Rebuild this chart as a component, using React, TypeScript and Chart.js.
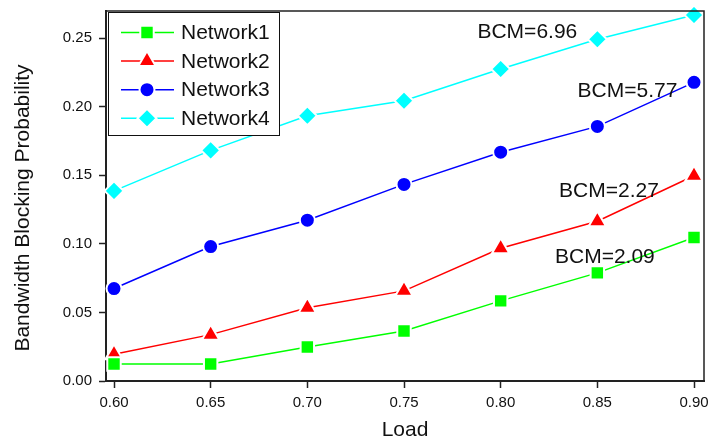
import React, { useEffect, useRef } from "react";
import { Chart, registerables } from "chart.js";
import { drawPoint } from "chart.js/helpers";

Chart.register(...registerables);

const loads = [0.6, 0.65, 0.7, 0.75, 0.8, 0.85, 0.9];
const network1 = [0.0124, 0.0124, 0.0248, 0.0365, 0.0584, 0.0788, 0.1046];
const network2 = [0.0195, 0.0338, 0.0534, 0.0657, 0.0968, 0.1165, 0.1496];
const network3 = [0.0674, 0.098, 0.1172, 0.1433, 0.1668, 0.1856, 0.2177];
const network4 = [0.1386, 0.1681, 0.1933, 0.2043, 0.2274, 0.2491, 0.2668];

const seriesNames = ["Network1", "Network2", "Network3", "Network4"];
const seriesColors = ["#00ff00", "#ff0000", "#0000ff", "#00ffff"];
const seriesMarkers = ["rect", "triangle", "circle", "rectRot"];
const markerRadius = [9.5, 10, 7.5, 9.5];

const xTicks = [0.6, 0.65, 0.7, 0.75, 0.8, 0.85, 0.9];
const yTicks = [0, 0.05, 0.1, 0.15, 0.2, 0.25];

const annotationTexts = ["BCM=6.96", "BCM=5.77", "BCM=2.27", "BCM=2.09"];
const annotationX = [0.8138, 0.8656, 0.856, 0.8539];
const annotationY = [0.2546, 0.2116, 0.1386, 0.0905];

const FONT = "'Liberation Sans', Arial, sans-serif";

export default function App() {
  const ref = useRef<HTMLCanvasElement | null>(null);

  useEffect(() => {
    const canvas = ref.current;
    if (!canvas) return;
    const allSeries = [network1, network2, network3, network4];

    const overlay = {
      id: "overlay",
      afterDraw(chart: any) {
        const ctx = chart.ctx;
        const ca = chart.chartArea;
        const xs = chart.scales.x;
        const ys = chart.scales.y;
        ctx.save();
        // top and right frame
        ctx.strokeStyle = "#222";
        ctx.lineWidth = 1.5;
        ctx.beginPath();
        ctx.moveTo(ca.left, ca.top);
        ctx.lineTo(ca.right, ca.top);
        ctx.lineTo(ca.right, ca.bottom);
        ctx.stroke();

        // annotations
        ctx.fillStyle = "#111";
        ctx.font = `21px ${FONT}`;
        ctx.textAlign = "center";
        ctx.textBaseline = "middle";
        annotationTexts.forEach((t, i) => {
          ctx.fillText(t, xs.getPixelForValue(annotationX[i]), ys.getPixelForValue(annotationY[i]));
        });

        // axis titles
        ctx.fillText("Load", (ca.left + ca.right) / 2, 430);
        ctx.save();
        ctx.translate(23, 208);
        ctx.rotate(-Math.PI / 2);
        ctx.fillText("Bandwidth Blocking Probability", 0, 0);
        ctx.restore();

        // legend
        const lx = ca.left + 2;
        const ly = ca.top + 1;
        const lw = 171;
        const lh = 123;
        ctx.fillStyle = "#fff";
        ctx.fillRect(lx, ly, lw, lh);
        ctx.strokeStyle = "#111";
        ctx.lineWidth = 1;
        ctx.strokeRect(lx + 0.5, ly + 0.5, lw, lh);
        seriesNames.forEach((name, i) => {
          const cy = ly + 20.5 + i * 28.6;
          ctx.strokeStyle = seriesColors[i];
          ctx.lineWidth = 1.5;
          ctx.beginPath();
          ctx.moveTo(lx + 13, cy);
          ctx.lineTo(lx + 66, cy);
          ctx.stroke();
          ctx.fillStyle = seriesColors[i];
          ctx.strokeStyle = "#fff";
          ctx.lineWidth = 2;
          drawPoint(ctx, { pointStyle: seriesMarkers[i] as any, radius: markerRadius[i], rotation: 0, borderWidth: 2 } as any, lx + 39, cy);
          ctx.fillStyle = "#111";
          ctx.font = `21px ${FONT}`;
          ctx.textAlign = "left";
          ctx.textBaseline = "middle";
          ctx.fillText(name, lx + 73, cy + 1);
        });
        ctx.restore();
      },
    };

    const chart = new Chart(canvas, {
      type: "line",
      data: {
        datasets: seriesNames.map((name, i) => ({
          label: name,
          data: loads.map((x, j) => ({ x, y: allSeries[i][j] })),
          borderColor: seriesColors[i],
          backgroundColor: seriesColors[i],
          borderWidth: 1.5,
          pointStyle: seriesMarkers[i] as any,
          pointRadius: markerRadius[i],
          pointBackgroundColor: seriesColors[i],
          pointBorderColor: "#fff",
          pointBorderWidth: 2,
          tension: 0,
          clip: false as any,
        })),
      },
      options: {
        animation: false,
        responsive: false,
        layout: { autoPadding: false, padding: { left: 0, top: 11, right: 6, bottom: 0 } },
        plugins: { legend: { display: false }, tooltip: { enabled: false } },
        scales: {
          x: {
            type: "linear",
            min: 0.59586,
            max: 0.90517,
            afterFit: (s: any) => {
              s.height = 61;
              s.paddingLeft = 0;
              s.paddingRight = 0;
            },
            afterBuildTicks: (s: any) => {
              s.ticks = xTicks.map((v) => ({ value: v }));
            },
            grid: {
              drawOnChartArea: false,
              drawTicks: true,
              tickLength: 7,
              tickColor: "#222",
              tickWidth: 1.5,
            },
            border: { display: true, color: "#222", width: 2 },
            ticks: {
              color: "#111",
              font: { family: FONT, size: 15 },
              padding: 6,
              maxRotation: 0,
              callback: (v: any) => Number(v).toFixed(2),
            },
          },
          y: {
            type: "linear",
            min: 0,
            max: 0.2697,
            afterFit: (s: any) => {
              s.width = 106;
              s.paddingTop = 0;
              s.paddingBottom = 0;
            },
            afterBuildTicks: (s: any) => {
              s.ticks = yTicks.map((v) => ({ value: v }));
            },
            grid: {
              drawOnChartArea: false,
              drawTicks: true,
              tickLength: 7,
              tickColor: "#222",
              tickWidth: 1.5,
            },
            border: { display: true, color: "#222", width: 2 },
            ticks: {
              color: "#111",
              font: { family: FONT, size: 15 },
              padding: 7,
              callback: (v: any) => Number(v).toFixed(2),
            },
          },
        },
      },
      plugins: [overlay],
    });
    return () => chart.destroy();
  }, []);

  return (
    <div style={{ position: "absolute", left: 0, top: 0, width: 710, height: 442, background: "#fff" }}>
      <canvas ref={ref} width={710} height={442} />
    </div>
  );
}
